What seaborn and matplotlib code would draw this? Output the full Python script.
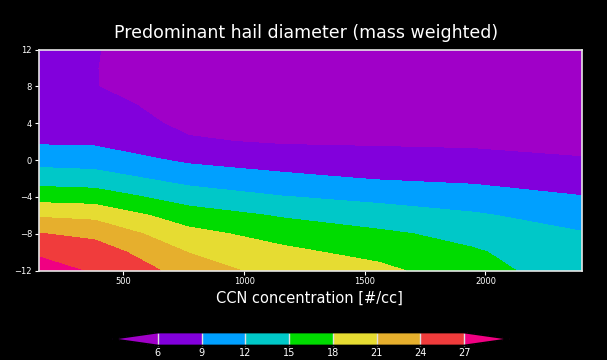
import numpy as np
import seaborn as sns
import matplotlib
matplotlib.use("Agg")
import matplotlib.pyplot as plt
from matplotlib.colors import ListedColormap

sns.set_theme(style="dark")
plt.rcParams['font.family'] = ['DejaVu Sans']

# CCN concentration (x) and height (y) grid
ccn = [150, 380, 770, 1160, 1560, 1950, 2400]
height = [-12, -10, -8, -6, -4, -2, 0, 2, 4, 6, 8, 10, 12]

# hail diameter per CCN column, bottom to top
diam_150 = [28.7, 26.4, 24.1, 20.6, 16.8, 13.6, 10.9, 8.6, 7.9, 7.5, 7.2, 7.0, 6.9]
diam_380 = [26.6, 25.6, 23.2, 20.2, 16.5, 13.3, 10.6, 8.5, 7.6, 6.8, 6.05, 6.05, 6.1]
diam_770 = [22.9, 20.9, 18.9, 16.4, 13.6, 10.9, 8.5, 6.3, 5.4, 5.0, 4.8, 4.7, 4.6]
diam_1160 = [19.5, 18.7, 16.8, 14.7, 12.1, 9.7, 7.6, 5.7, 4.8, 4.4, 4.2, 4.1, 4.0]
diam_1560 = [18.8, 17.0, 15.5, 13.4, 11.2, 8.8, 7.1, 5.6, 4.8, 4.4, 4.2, 4.1, 4.0]
diam_1950 = [15.9, 15.3, 14.1, 12.35, 10.3, 8.4, 6.8, 5.5, 4.8, 4.4, 4.2, 4.1, 4.0]
diam_2400 = [13.6, 13.0, 12.2, 10.65, 9.1, 7.6, 6.15, 5.3, 4.8, 4.4, 4.2, 4.1, 4.0]

levels = [6, 9, 12, 15, 18, 21, 24, 27]
band_colors = ["#8200DC", "#00A0FF", "#00C8C8", "#00DC00",
               "#E6DC32", "#E6AF2D", "#F03C3C"]
under_color = "#A000C8"
over_color = "#F00082"

field = np.column_stack([diam_150, diam_380, diam_770, diam_1160,
                         diam_1560, diam_1950, diam_2400])

cmap = ListedColormap(sns.color_palette(band_colors))
cmap.set_under(under_color)
cmap.set_over(over_color)

fig = plt.figure(figsize=(6.07, 3.6), dpi=100, facecolor="black")
ax = fig.add_axes([39 / 607, 1 - 270.5 / 360, 543 / 607, 221 / 360])
ax.set_facecolor("black")
cs = ax.contourf(ccn, height, field, levels=levels, cmap=cmap, extend="both")
ax.set_xlim(150, 2400)
ax.set_ylim(-12, 12)
ax.set_xticks([500, 1000, 1500, 2000])
ax.set_yticks([-12, -8, -4, 0, 4, 8, 12])
ax.tick_params(colors="white", labelsize=6, length=3, width=0.8,
               bottom=True, left=True, direction="out", pad=2)
for s in ax.spines.values():
    s.set_color("#e6e6e6")
    s.set_linewidth(1.2)
ax.grid(False)

fig.text(0.505, 1 - 33 / 360, "Predominant hail diameter (mass weighted)",
         color="white", fontsize=12.5, ha="center", va="center")
fig.text(0.51, 1 - 298 / 360, "CCN concentration [#/cc]",
         color="white", fontsize=10.5, ha="center", va="center")

cax = fig.add_axes([112 / 607, 1 - 345.5 / 360, 398 / 607, 13 / 360])
cb = fig.colorbar(cs, cax=cax, orientation="horizontal", extendfrac=0.15,
                  drawedges=True)
cb.set_ticks(levels)
cb.outline.set_edgecolor("black")
cb.dividers.set_color("#e0e0e0")
cb.dividers.set_linewidth(1.0)
cax.tick_params(colors="white", labelsize=7, length=0, pad=2)

fig.savefig("out.png", dpi=100, facecolor="black")
